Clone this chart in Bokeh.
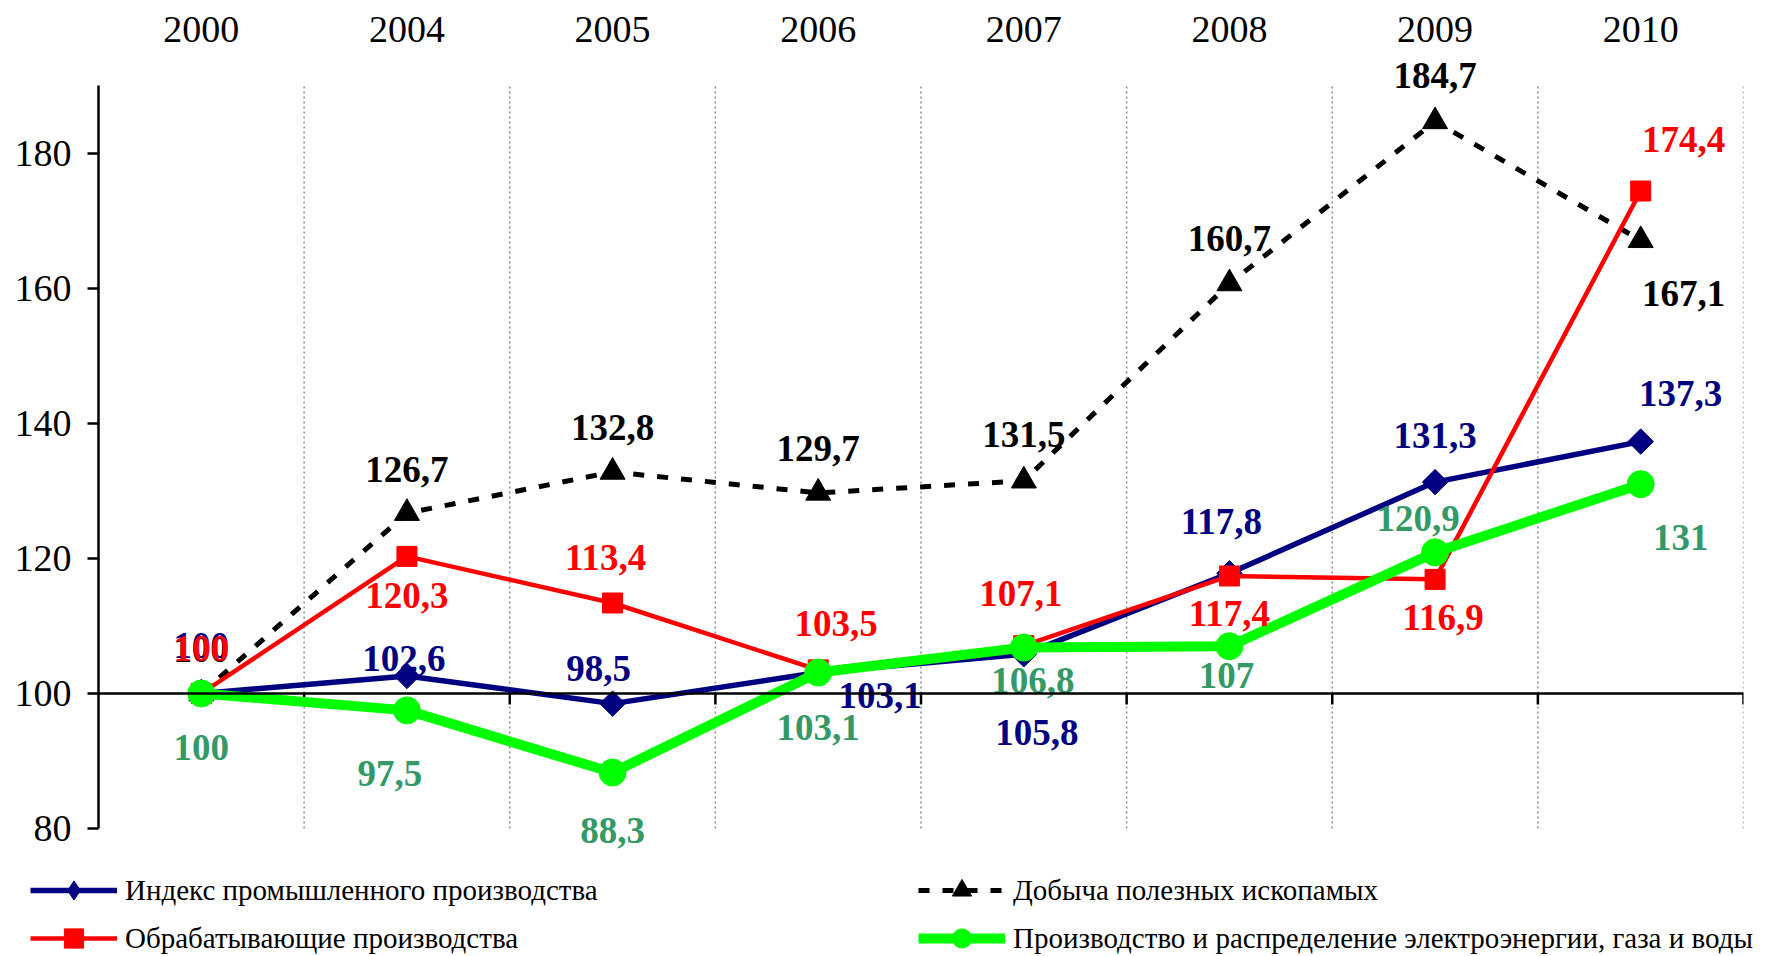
from bokeh.plotting import figure
from bokeh.models import FixedTicker, Span, Legend, LegendItem, Range1d, ColumnDataSource
from bokeh.core.properties import value
from bokeh.embed import file_html
from bokeh.resources import INLINE

# ---------------- data ----------------
years = ["2000", "2004", "2005", "2006", "2007", "2008", "2009", "2010"]
industrial_index = [100, 102.6, 98.5, 103.1, 105.8, 117.8, 131.3, 137.3]
mining = [100, 126.7, 132.8, 129.7, 131.5, 160.7, 184.7, 167.1]
manufacturing = [100, 120.3, 113.4, 103.5, 107.1, 117.4, 116.9, 174.4]
utilities = [100, 97.5, 88.3, 103.1, 106.8, 107, 120.9, 131]
y_ticks = [80, 100, 120, 140, 160, 180]
axis_min, axis_max, base = 80, 190, 100

name_index = "Индекс промышленного производства"
name_mining = "Добыча полезных ископамых"
name_manuf = "Обрабатывающие производства"
name_util = "Производство и распределение электроэнергии, газа и воды"

# ---------------- label placement (screen px, + = down) ----------------
off_index = [(0, -48), (-3, -17), (-14, -35), (62, 23), (13, 78), (-8, -52), (0, -47), (40, -48)]
off_mining = [(0, -44), (0, -44), (0, -44), (0, -44), (0, -46), (0, -45), (0, -46), (43, 53)]
off_manuf = [(0, -45), (0, 39), (-7, -45), (18, -46), (-3, -52), (0, 38), (8, 38), (43, -52)]
off_util = [(0, 54), (-17, 63), (0, 58), (0, 55), (9, 33), (-3, 29), (-17, -34), (40, 53)]

# ---------------- styles ----------------
FONT = "Liberation Serif"
st_mining = dict(color="black", lw=5, dash="11 13", marker="triangle", size=25, angle=0)
st_index = dict(color="#000080", lw=5.5, dash="solid", marker="square", size=18, angle=0.7854)
st_manuf = dict(color="#ff0000", lw=4.5, dash="solid", marker="square", size=20, angle=0)
st_util = dict(color="#00ff00", lw=10, dash="solid", marker="circle", size=27, angle=0)

x = list(range(len(years)))

# ---------------- layout (page px) ----------------
W, H_MAIN, H_LEG = 1766, 860, 95
frame_left, frame_right, frame_top = 98, 1743, 56
y100_px, y180_px = 693, 152.7
ppu = (y100_px - y180_px) / (180 - base)
y_end = base + (y100_px - frame_top) / ppu
y_start = base - (H_MAIN - y100_px) / ppu

p = figure(width=W, height=H_MAIN,
           x_range=Range1d(-0.5, len(years) - 0.5), y_range=Range1d(y_start, y_end),
           output_backend="svg", toolbar_location=None, x_axis_location="above",
           min_border_left=frame_left, min_border_right=W - frame_right,
           min_border_top=frame_top, min_border_bottom=0)
p.outline_line_color = None
p.background_fill_color = "white"
p.border_fill_color = "white"

# top category axis
p.xaxis.ticker = FixedTicker(ticks=x)
p.xaxis.major_label_overrides = {i: y for i, y in enumerate(years)}
p.xaxis.axis_line_color = None
p.xaxis.major_tick_line_color = None
p.xaxis.minor_tick_line_color = None
p.xaxis.major_label_text_font = FONT
p.xaxis.major_label_text_font_size = "38px"
p.xaxis.major_label_text_color = "black"
p.xaxis.major_label_standoff = 9

# left value axis
p.yaxis.ticker = FixedTicker(ticks=y_ticks)
p.yaxis.bounds = (axis_min, axis_max)
p.yaxis.axis_line_width = 2.5
p.yaxis.axis_line_color = "black"
p.yaxis.major_tick_out = 11
p.yaxis.major_tick_in = 0
p.yaxis.major_tick_line_width = 2.5
p.yaxis.minor_tick_line_color = None
p.yaxis.major_label_text_font = FONT
p.yaxis.major_label_text_font_size = "38px"
p.yaxis.major_label_text_color = "black"
p.yaxis.major_label_standoff = 16

p.xgrid.grid_line_color = None
p.ygrid.grid_line_color = None

# dotted vertical separators between categories
bounds = [i + 0.5 for i in x]
p.segment(x0=bounds, y0=[axis_min] * len(bounds), x1=bounds, y1=[axis_max] * len(bounds),
          line_color="#8c8c8c", line_width=1.5, line_dash="2 3")

# horizontal axis line crossing at 100, with ticks at category boundaries
p.add_layout(Span(location=base, dimension="width", line_color="black", line_width=2.5))
tick_len = 11 / ppu
p.segment(x0=bounds, y0=[base] * len(bounds), x1=bounds, y1=[base - tick_len] * len(bounds),
          line_color="black", line_width=2.5)


def draw_series(fig, vals, st, marker=None):
    ln = fig.line(x, vals, line_color=st["color"], line_width=st["lw"], line_dash=st["dash"])
    sc = fig.scatter(x, vals, marker=marker or st["marker"], size=st["size"], angle=st["angle"],
                     color=st["color"])
    return [ln, sc]


# series (drawing order: mining, index, manufacturing, utilities)
draw_series(p, mining, st_mining)
draw_series(p, industrial_index, st_index)
draw_series(p, manufacturing, st_manuf)
draw_series(p, utilities, st_util)


def fmt(v):
    return f"{v:g}".replace(".", ",")


def add_labels(vals, offs, color):
    src = ColumnDataSource(dict(x=x, y=vals, t=[fmt(v) for v in vals],
                                dx=[o[0] for o in offs], dy=[o[1] for o in offs]))
    p.text(x="x", y="y", text="t", x_offset="dx", y_offset="dy", source=src,
           text_font=value(FONT), text_font_style="bold", text_font_size="37px",
           text_color=color, text_align="center", text_baseline="middle")


add_labels(mining, off_mining, "black")
add_labels(industrial_index, off_index, "#000080")
add_labels(manufacturing, off_manuf, "#ff0000")
add_labels(utilities, off_util, "#339966")

# ---------------- legend strip: separate root, full-width frame ----------------
pl = figure(width=W, height=H_LEG, x_range=Range1d(0, W), y_range=Range1d(0, 1),
            output_backend="svg", toolbar_location=None,
            x_axis_type=None, y_axis_type=None,
            min_border_left=0, min_border_right=0, min_border_top=0, min_border_bottom=0)
pl.outline_line_color = None
pl.xgrid.grid_line_color = None
pl.ygrid.grid_line_color = None
pl.background_fill_color = "white"
pl.border_fill_color = "white"

# same series in the legend strip, outside its visible y range: only used as legend glyphs
lg_index = draw_series(pl, industrial_index, st_index, marker="diamond")
lg_mining = draw_series(pl, mining, st_mining)
lg_manuf = draw_series(pl, manufacturing, st_manuf)
lg_util = draw_series(pl, utilities, st_util)

LEG_ROW = 48


def make_legend(items, loc):
    lg = Legend(items=items, location=loc, orientation="vertical",
                label_text_font=FONT, label_text_font_size="29px", label_text_color="black",
                glyph_width=87, glyph_height=LEG_ROW, label_height=LEG_ROW, label_standoff=8,
                spacing=0, padding=0, margin=0,
                border_line_color=None, background_fill_alpha=0)
    pl.add_layout(lg)


leg_y = H_LEG - 6 - 2 * LEG_ROW
make_legend([LegendItem(label=name_index, renderers=lg_index),
             LegendItem(label=name_manuf, renderers=lg_manuf)], (30, leg_y))
make_legend([LegendItem(label=name_mining, renderers=lg_mining),
             LegendItem(label=name_util, renderers=lg_util)], (918, leg_y))

open("out.html", "w").write(file_html([p, pl], INLINE))
